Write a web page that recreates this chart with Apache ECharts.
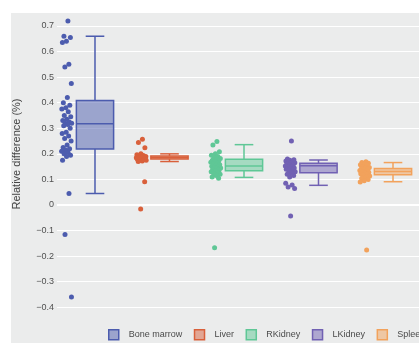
<!DOCTYPE html>
<html><head><meta charset="utf-8">
<script src="https://cdn.jsdelivr.net/npm/echarts@6/dist/echarts.min.js"></script>
<style>
html,body{margin:0;padding:0;background:#fff;}
#wrap{position:relative;width:419px;height:343px;overflow:hidden;}
#bg{position:absolute;left:11px;top:13px;width:408px;height:330px;background:#ebecec;}
#c{position:absolute;left:0;top:0;width:419px;height:343px;}
</style>
</head><body>
<div id="wrap"><div id="bg"></div><div id="c"></div></div>
<script>
// ---- data ----
const categories = ['Bone marrow', 'Liver', 'RKidney', 'LKidney', 'Spleen'];
const colors = ['#4c5cae', '#d9603b', '#5fc796', '#7161b3', '#f2a25c'];
const fills = ['rgba(76,92,174,0.5)', 'rgba(217,96,59,0.5)', 'rgba(95,199,150,0.5)', 'rgba(113,97,179,0.5)', 'rgba(242,162,92,0.5)'];

const boneMarrow = [0.72, 0.66, 0.655, 0.64, 0.635, 0.55, 0.54, 0.475, 0.42, 0.40, 0.39, 0.38, 0.375, 0.365,
  0.35, 0.345, 0.335, 0.33, 0.325, 0.32, 0.32, 0.315, 0.31, 0.30, 0.285, 0.28, 0.27, 0.26, 0.25, 0.235,
  0.225, 0.22, 0.215, 0.21, 0.205, 0.20, 0.195, 0.19, 0.175, 0.045, -0.115, -0.36];
const liver = [0.257, 0.244, 0.224, 0.20, 0.197, 0.194, 0.19, 0.19, 0.188, 0.187, 0.186, 0.185, 0.185, 0.184,
  0.183, 0.182, 0.18, 0.18, 0.178, 0.176, 0.175, 0.172, 0.17, 0.091, -0.016];
const rKidney = [0.248, 0.235, 0.208, 0.2, 0.195, 0.19, 0.185, 0.182, 0.178, 0.175, 0.172, 0.17, 0.167, 0.163,
  0.16, 0.157, 0.155, 0.152, 0.15, 0.147, 0.145, 0.142, 0.14, 0.137, 0.134, 0.13, 0.127, 0.123, 0.12,
  0.115, 0.11, 0.105, -0.167];
const lKidney = [0.25, 0.18, 0.177, 0.175, 0.172, 0.17, 0.168, 0.165, 0.163, 0.16, 0.158, 0.155, 0.153, 0.15,
  0.148, 0.145, 0.142, 0.14, 0.137, 0.135, 0.13, 0.125, 0.12, 0.115, 0.11, 0.085, 0.078, 0.07, 0.065, -0.043];
const spleen = [0.169, 0.166, 0.163, 0.16, 0.157, 0.155, 0.15, 0.147, 0.145, 0.142, 0.14, 0.137, 0.135, 0.132,
  0.13, 0.128, 0.125, 0.122, 0.12, 0.117, 0.113, 0.11, 0.105, 0.1, 0.095, 0.09, -0.176];
const pointSets = [boneMarrow, liver, rKidney, lKidney, spleen];

const boxLower  = [0.045, 0.170, 0.108, 0.077, 0.091];
const boxQ1     = [0.219, 0.180, 0.134, 0.126, 0.118];
const boxMedian = [0.318, 0.186, 0.153, 0.154, 0.131];
const boxQ3     = [0.409, 0.192, 0.179, 0.163, 0.143];
const boxUpper  = [0.660, 0.200, 0.236, 0.176, 0.166];

const yTickMin = -0.4, yTickMax = 0.7, yTickStep = 0.1;
const yTitle = 'Relative difference (%)';

// ---- build chart ----
const FONT = '"Liberation Sans", Arial, sans-serif';
const chart = echarts.init(document.getElementById('c'), null, {renderer: 'canvas'});

const series = [];
// zero line
series.push({
  type: 'line', data: [], z: 1, silent: true,
  markLine: {silent: true, symbol: 'none', label: {show: false},
    lineStyle: {color: '#ffffff', width: 2, type: 'solid'}, data: [{yAxis: 0}]}
});
categories.forEach((name, i) => {
  series.push({
    name: name, type: 'custom', z: 3,
    encode: {x: 0, y: [1, 2, 3, 4, 5]},
    data: [[i, boxLower[i], boxQ1[i], boxMedian[i], boxQ3[i], boxUpper[i]]],
    itemStyle: {color: colors[i]},
    renderItem: function (params, api) {
      const x = api.value(0);
      const lo = api.coord([x, api.value(1)]);
      const q1 = api.coord([x, api.value(2)]);
      const md = api.coord([x, api.value(3)]);
      const q3 = api.coord([x, api.value(4)]);
      const hi = api.coord([x, api.value(5)]);
      const l = api.coord([x - 0.25, 0])[0], r = api.coord([x + 0.25, 0])[0];
      const cl = api.coord([x - 0.125, 0])[0], cr = api.coord([x + 0.125, 0])[0];
      const cx = lo[0];
      const st = {stroke: colors[i], lineWidth: 1.5, fill: null};
      return {type: 'group', children: [
        {type: 'line', shape: {x1: cx, y1: q3[1], x2: cx, y2: hi[1]}, style: st},
        {type: 'line', shape: {x1: cx, y1: q1[1], x2: cx, y2: lo[1]}, style: st},
        {type: 'line', shape: {x1: cl, y1: hi[1], x2: cr, y2: hi[1]}, style: st},
        {type: 'line', shape: {x1: cl, y1: lo[1], x2: cr, y2: lo[1]}, style: st},
        {type: 'rect', shape: {x: l, y: q3[1], width: r - l, height: q1[1] - q3[1]},
          style: {fill: fills[i], stroke: colors[i], lineWidth: 1.5}},
        {type: 'line', shape: {x1: l, y1: md[1], x2: r, y2: md[1]}, style: st}
      ]};
    }
  });
  const pts = pointSets[i].map((v, k) => {
    const j = (((k + 1) * 0.6180339) % 1 - 0.5) * 0.14;
    return [i - 0.38 + j, v];
  });
  series.push({
    name: name, type: 'scatter', z: 4, clip: false,
    symbol: 'circle', symbolSize: 5,
    itemStyle: {color: colors[i], opacity: 1},
    data: pts
  });
});

chart.setOption({
  animation: false,
  textStyle: {fontFamily: FONT},
  grid: {left: 57, right: 0, top: 26, bottom: 35.7, containLabel: false},
  xAxis: {type: 'value', min: -0.51, max: 4.349, show: false},
  yAxis: {
    type: 'value', min: yTickMin, max: yTickMax, interval: yTickStep,
    axisLine: {show: false}, axisTick: {show: false},
    splitLine: {show: true, lineStyle: {color: '#ffffff', width: 1}},
    axisLabel: {
      fontSize: 9, color: '#505050', margin: 3, fontFamily: FONT,
      formatter: function (v) {
        const r = Math.round(v * 10) / 10;
        if (r === 0) return '0';
        return (r < 0 ? '\u2212' : '') + Math.abs(r).toFixed(1);
      }
    }
  },
  legend: {
    left: 108, top: 329, width: 800, orient: 'horizontal', padding: 0,
    itemWidth: 10, itemHeight: 10, itemGap: 11.5, icon: 'rect',
    textStyle: {fontSize: 9, color: '#4a4a4a', fontFamily: FONT, padding: [0, 0, 0, 5]},
    data: categories.map((c, i) => ({name: c, icon: 'rect',
      itemStyle: {color: fills[i], borderColor: colors[i], borderWidth: 1.5}}))
  },
  graphic: [{
    type: 'text', x: 17, y: 154, rotation: Math.PI / 2,
    style: {text: yTitle, fontSize: 11, fill: '#444444', fontFamily: FONT,
      textAlign: 'center', textVerticalAlign: 'middle'}
  }],
  series: series
});
</script>
</body></html>
